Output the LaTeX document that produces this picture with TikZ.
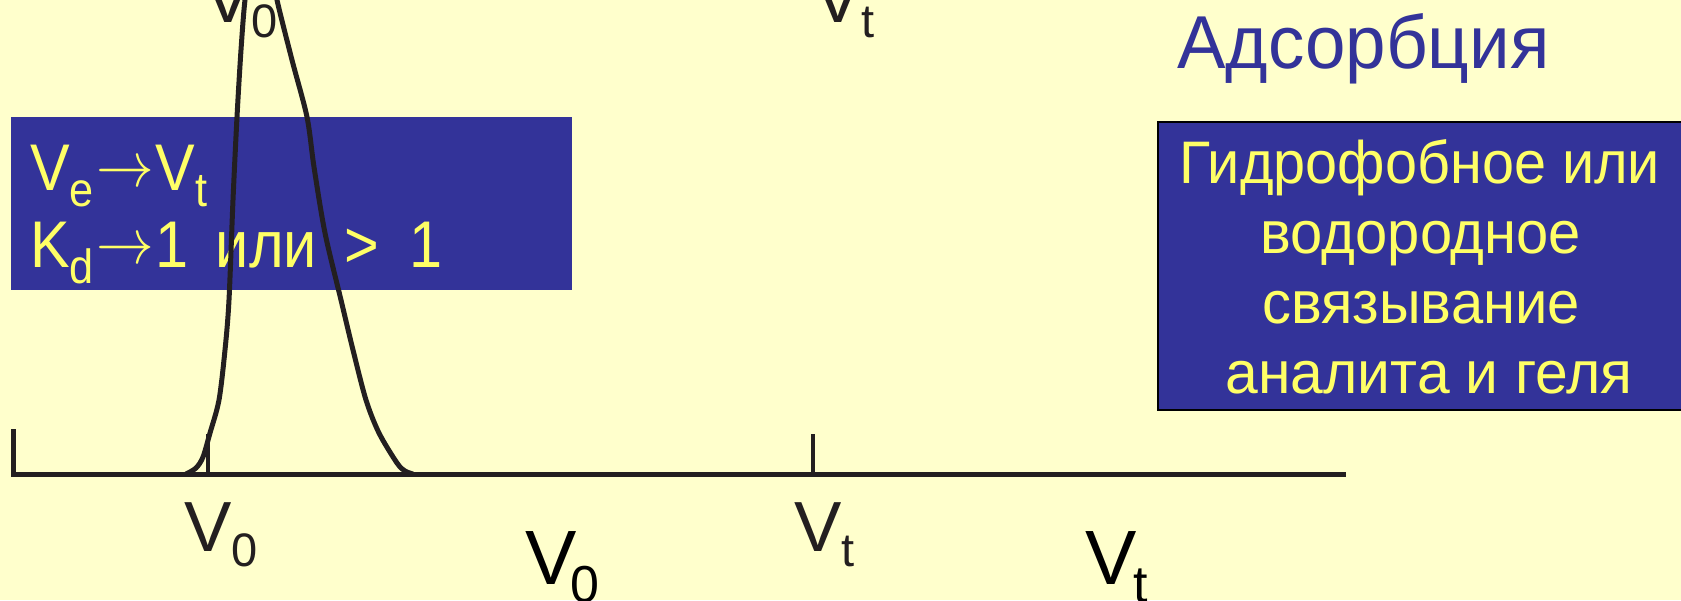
\documentclass[tikz,border=0pt]{standalone}
\usepackage{fontspec}
\usepackage{graphicx}
\setmainfont{Liberation Sans}
\definecolor{bg}{HTML}{FFFFCC}
\definecolor{boxblue}{HTML}{333399}
\definecolor{ytext}{HTML}{FFFF66}
\definecolor{ink}{HTML}{231F20}
\newcommand\mysub[3]{\raisebox{-#2pt}{\fontsize{#1}{#1}\selectfont #3}}
\newcommand\fs[1]{\fontsize{#1}{#1}\selectfont}
\newcommand\longarr{\hspace{3pt}\raisebox{4pt}{\resizebox{64pt}{!}{$\rightarrow$}}\hspace{2pt}}
\tikzset{
  bluebox/.style={fill=boxblue, inner sep=0pt, anchor=north west},
  boxtext/.style={text=ytext, inner sep=0pt},
  lbl/.style={text=ink, inner sep=0pt, anchor=base west},
  axisline/.style={draw=ink, line width=5pt},
  tickline/.style={draw=ink, line width=3.5pt},
  curve/.style={draw=ink, line width=5pt},
}
\begin{document}
\begin{tikzpicture}[x=1pt,y=-1pt]
\useasboundingbox[fill=bg] (0,0) rectangle (1681,600);
\clip (0,0) rectangle (1681,600);
% left box
\node[bluebox, minimum width=561pt, minimum height=173pt] (lbox) at (11,117) {};
\node[boxtext, anchor=base west] (l1) at (30,190) {\scalebox{0.9}[1]{\fs{66}V\mysub{48}{16}{e}\longarr V\mysub{48}{16}{t}}};
\node[boxtext, anchor=base west] (l2) at (30,267) {\scalebox{0.9}[1]{\fs{66}K\mysub{48}{16}{d}\longarr 1\hspace{30pt}или\hspace{30pt}>\hspace{34pt}1}};
% right box
\node[bluebox, draw=black, line width=2pt, minimum width=530pt, minimum height=288pt] (rbox) at (1157,121) {};
\node[boxtext, anchor=base] (r1) at (1420,183) {\scalebox{0.96}[1]{\fs{60}Гидрофобное или}};
\node[boxtext, anchor=base] (r2) at (1421,253) {\scalebox{0.965}[1]{\fs{60}водородное}};
\node[boxtext, anchor=base] (r3) at (1421,323) {\scalebox{0.965}[1]{\fs{60}связывание}};
\node[boxtext, anchor=base] (r4) at (1429,393) {\scalebox{0.98}[1]{\fs{60}аналита и геля}};
% title
\node[text=boxblue, inner sep=0pt, anchor=base west] (title) at (1177,68) {\scalebox{0.97}[1]{\fs{75}Адсорбция}};
% axis
\coordinate (ytop) at (13,429);
\coordinate (orig) at (13,474);
\coordinate (xend) at (1346,474);
\coordinate (t0a) at (208,434);
\coordinate (t0b) at (208,474);
\coordinate (tta) at (813,434);
\coordinate (ttb) at (813,474);
\draw[axisline] (ytop) -- (orig) -- (xend);
\draw[tickline] (t0a) -- (t0b);
\draw[tickline] (tta) -- (ttb);
% peak
\draw[curve] plot[smooth, tension=0.5] coordinates {(186,474) (196,468) (203,457) (210,433) (219,400) (225,350) (229,300) (233,200) (237,117) (241,50) (245,0) (251,-35) (261,-50) (271,-35) (277,0) (292,60) (307,117) (314,167) (325,233) (341,300) (353,350) (366,400) (379,433) (397,463) (405,471) (413,474)};
% labels
\node[lbl] (v0top) at (204,22) {\fs{71}V\mysub{47}{15}{0}};
\node[lbl] (vttop) at (814,22) {\fs{71}V\mysub{47}{15}{t}};
\node[lbl] (v0a) at (184,551) {\fs{71}V\mysub{47}{15}{0}};
\node[lbl] (vta) at (794,551) {\fs{71}V\mysub{47}{15}{t}};
\node[lbl, text=black] (v0b) at (525,584) {\fs{77}V\hspace{-6pt}\mysub{52}{18}{0}};
\node[lbl, text=black] (vtb) at (1085,584) {\fs{77}V\hspace{-3pt}\mysub{52}{18}{t}};
\end{tikzpicture}
\end{document}
